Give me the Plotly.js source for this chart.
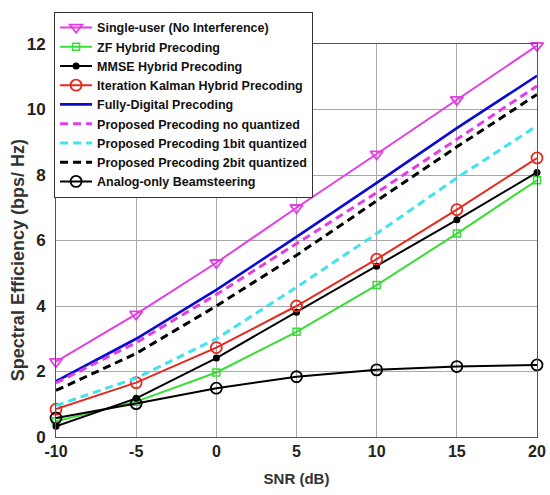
<!DOCTYPE html>
<html>
<head>
<meta charset="utf-8">
<script src="https://cdn.plot.ly/plotly-3.0.1.min.js"></script>
<style>html,body{margin:0;padding:0;background:#fff;}#chart{width:550px;height:495px;}</style>
</head>
<body>
<div id="chart"></div>
<script>
const snr = [-10, -5, 0, 5, 10, 15, 20];
const singleUser = [2.3, 3.75, 5.32, 7.0, 8.64, 10.3, 11.95];
const zfHybrid = [0.48, 1.08, 1.97, 3.21, 4.64, 6.21, 7.84];
const mmseHybrid = [0.33, 1.18, 2.41, 3.81, 5.21, 6.63, 8.08];
const kalmanHybrid = [0.85, 1.66, 2.73, 4.0, 5.43, 6.94, 8.52];
const fullyDigital = [1.7, 3.0, 4.49, 6.11, 7.76, 9.43, 11.03];
const proposedNoQ = [1.65, 2.88, 4.35, 5.9, 7.46, 9.09, 10.72];
const proposed1bit = [0.96, 1.8, 3.0, 4.57, 6.21, 7.91, 9.5];
const proposed2bit = [1.42, 2.55, 4.0, 5.55, 7.21, 8.86, 10.46];
const analogOnly = [0.58, 1.02, 1.49, 1.84, 2.05, 2.15, 2.2];
const names = [
  'Single-user (No Interference)',
  'ZF Hybrid Precoding',
  'MMSE Hybrid Precoding',
  'Iteration Kalman Hybrid Precoding',
  'Fully-Digital Precoding',
  'Proposed Precoding no quantized',
  'Proposed Precoding 1bit quantized',
  'Proposed Precoding 2bit quantized',
  'Analog-only Beamsteering'
];
const xTicks = [-10, -5, 0, 5, 10, 15, 20];
const yTicks = [0, 2, 4, 6, 8, 10, 12];
const xTitle = 'SNR (dB)';
const yTitle = 'Spectral Efficiency (bps/ Hz)';

const FONT = '"Liberation Sans", Arial, sans-serif';
const dashPat = '8px,5px';

function tr(y, name, color, opts) {
  return Object.assign({
    x: snr, y: y, name: name, type: 'scatter', cliponaxis: false,
    mode: 'lines', line: {color: color, width: 2}
  }, opts || {});
}

const data = [
  tr(singleUser, names[0], '#e43de4', {mode: 'lines+markers', marker: {symbol: 'triangle-down-open', size: 11, color: '#e43de4', line: {width: 1.8}}}),
  tr(zfHybrid, names[1], '#38dd38', {mode: 'lines+markers', marker: {symbol: 'square-open', size: 7, color: '#38dd38', line: {width: 1.5}}}),
  tr(mmseHybrid, names[2], '#000000', {mode: 'lines+markers', marker: {symbol: 'circle', size: 7, color: '#000000'}}),
  tr(kalmanHybrid, names[3], '#e8281e', {mode: 'lines+markers', marker: {symbol: 'circle-open', size: 11, color: '#e8281e', line: {width: 1.8}}}),
  tr(fullyDigital, names[4], '#0a0ad0', {line: {color: '#0a0ad0', width: 2.6}}),
  tr(proposedNoQ, names[5], '#e43de4', {line: {color: '#e43de4', width: 3, dash: dashPat}}),
  tr(proposed1bit, names[6], '#3fe4ec', {line: {color: '#3fe4ec', width: 3, dash: dashPat}}),
  tr(proposed2bit, names[7], '#000000', {line: {color: '#000000', width: 3, dash: dashPat}}),
  tr(analogOnly, names[8], '#000000', {mode: 'lines+markers', marker: {symbol: 'circle-open', size: 11, color: '#000000', line: {width: 1.8}}})
];

const layout = {
  width: 550, height: 495,
  margin: {l: 56, r: 13, t: 37, b: 58},
  paper_bgcolor: '#ffffff', plot_bgcolor: '#ffffff',
  font: {family: FONT, color: '#222222', size: 14},
  showlegend: true,
  legend: {
    x: -0.004, y: 1.082, xanchor: 'left', yanchor: 'top',
    bgcolor: '#ffffff', bordercolor: '#333333', borderwidth: 1,
    font: {family: FONT, size: 12.5, color: '#111111', weight: 'bold'},
    tracegroupgap: 0, itemwidth: 32
  },
  xaxis: {
    range: [-10, 20], tickvals: xTicks, ticktext: xTicks.map(String),
    showgrid: true, gridcolor: '#a8a8a8', gridwidth: 1,
    showline: true, linecolor: '#555555', linewidth: 1, mirror: true,
    zeroline: false, ticks: '',
    tickfont: {family: FONT, size: 16, color: '#222222', weight: 'bold'},
    title: {text: xTitle, font: {family: FONT, size: 15, color: '#333333', weight: 'bold'}, standoff: 14}
  },
  yaxis: {
    range: [0, 12], tickvals: yTicks, ticktext: yTicks.map(String),
    showgrid: true, gridcolor: '#a8a8a8', gridwidth: 1,
    showline: true, linecolor: '#555555', linewidth: 1, mirror: true,
    zeroline: false, ticks: '', ticklabelstandoff: 6,
    tickfont: {family: FONT, size: 17, color: '#222222', weight: 'bold'}
  },
  annotations: [{
    text: yTitle, textangle: -90, showarrow: false,
    xref: 'paper', yref: 'paper', x: -0.079, y: 0.45,
    xanchor: 'center', yanchor: 'middle',
    font: {family: FONT, size: 18, color: '#333333', weight: 'bold'}
  }]
};

Plotly.newPlot('chart', data, layout, {displayModeBar: false, staticPlot: true});
</script>
</body>
</html>
